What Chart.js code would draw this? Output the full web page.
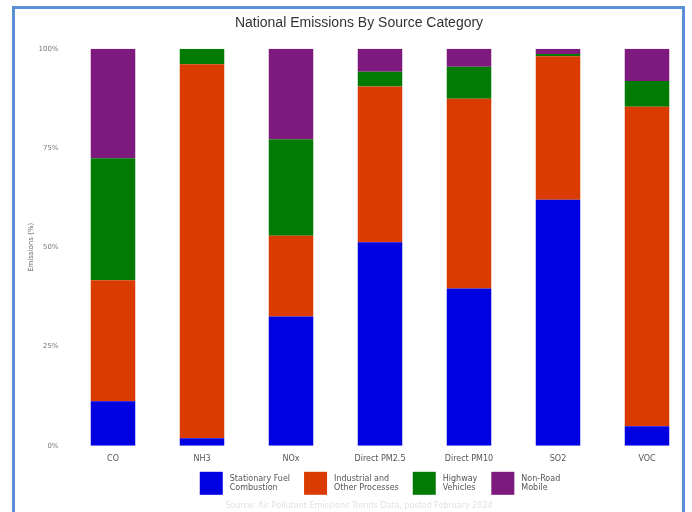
<!DOCTYPE html>
<html>
    <head>
        <title>National Emissions By Source Category</title>
        <script src="https://cdn.jsdelivr.net/npm/chart.js@4.4.1/dist/chart.umd.min.js"></script>
        <style>
            html, body {
                margin: 0;
                padding: 0;
                background: #fff;
                overflow: hidden;
            }
            .frame {
                position: absolute;
                left: 12px;
                top: 6px;
                width: 667px;
                height: 520px;
                border: 3px solid #5b8fd6;
                pointer-events: none;
            }
            .chart-container {
                position: absolute;
                left: 0;
                top: 0;
                width: 720px;
                height: 512px;
            }
        </style>
    </head>
    <body>
        <div class="chart-container">
            <canvas id="myChart"></canvas>
        </div>
        <div class="frame"></div>

        <script>
            // pollutants along the x axis
            var pollutants = ['CO', 'NH3', 'NOx', 'Direct PM2.5', 'Direct PM10', 'SO2', 'VOC'];

            // share of national emissions (%) per source category
            var stationaryFuel = [11.2, 1.9, 32.6, 51.3, 39.6, 62.0, 4.9];
            var industrial     = [30.5, 94.2, 20.3, 39.2, 47.8, 36.1, 80.5];
            var highway        = [30.7, 3.9, 24.3, 3.7, 8.1, 0.6, 6.5];
            var nonRoad        = [27.6, 0.0, 22.8, 5.8, 4.5, 1.3, 8.1];

            var yTicks = [0, 25, 50, 75, 100];

            var legendFont = '8px "DejaVu Sans"';

            // two-line legend under the x labels, centred on the plot area
            var wrappedLegend = {
                id: 'wrappedLegend',
                afterDraw: function(chart) {
                    var c = chart.ctx;
                    var area = chart.chartArea;
                    var box = 23, gap = 7, spacing = 14, lineH = 9.5;
                    var sets = chart.data.datasets;
                    c.save();
                    c.font = legendFont;
                    var widths = sets.map(function(ds) {
                        var w = Math.max.apply(null, ds.label.map(function(t) { return c.measureText(t).width; }));
                        return box + gap + w;
                    });
                    var total = widths.reduce(function(a, b) { return a + b; }, 0) + spacing * (sets.length - 1);
                    var x = (area.left + area.right) / 2 - total / 2;
                    var top = area.bottom + 26;
                    sets.forEach(function(ds, i) {
                        c.fillStyle = ds.backgroundColor;
                        c.fillRect(x, top, box, box);
                        c.fillStyle = '#555';
                        c.textBaseline = 'middle';
                        c.textAlign = 'left';
                        var y0 = top + box / 2 - (ds.label.length - 1) * lineH / 2;
                        ds.label.forEach(function(t, j) {
                            c.fillText(t, x + box + gap, y0 + j * lineH);
                        });
                        x += widths[i] + spacing;
                    });
                    c.restore();
                }
            };

            var ctx = document.getElementById('myChart').getContext('2d');
            var chart = new Chart(ctx, {
                type: 'bar',
                data: {
                    labels: pollutants,
                    datasets: [
                        { label: ['Stationary Fuel', 'Combustion'], data: stationaryFuel, backgroundColor: '#0000e0' },
                        { label: ['Industrial and', 'Other Processes'], data: industrial, backgroundColor: '#d93b01' },
                        { label: ['Highway', 'Vehicles'], data: highway, backgroundColor: '#037a03' },
                        { label: ['Non-Road', 'Mobile'], data: nonRoad, backgroundColor: '#7e1a7d' }
                    ]
                },
                plugins: [wrappedLegend],
                options: {
                    responsive: true,
                    maintainAspectRatio: false,
                    animation: false,
                    layout: {
                        padding: { left: 26.5, right: 28.5, top: 0, bottom: 0 }
                    },
                    datasets: {
                        bar: {
                            categoryPercentage: 1.0,
                            barPercentage: 0.5,
                            borderWidth: 0
                        }
                    },
                    plugins: {
                        title: {
                            display: true,
                            text: 'National Emissions By Source Category',
                            color: '#333',
                            font: { family: 'Liberation Sans', size: 14, weight: 'normal' },
                            padding: { top: 15, bottom: 17 }
                        },
                        subtitle: {
                            display: true,
                            position: 'bottom',
                            text: 'Source: Air Pollutant Emissions Trends Data, posted February 2024',
                            color: '#e2e2e2',
                            font: { family: 'DejaVu Sans', size: 8 },
                            padding: { top: 30, bottom: 1 }
                        },
                        legend: { display: false },
                        tooltip: { enabled: false }
                    },
                    scales: {
                        x: {
                            stacked: true,
                            grid: { display: false, drawTicks: false },
                            border: { display: false },
                            ticks: {
                                color: '#555',
                                font: { family: 'DejaVu Sans', size: 8 },
                                maxRotation: 0,
                                padding: 8
                            }
                        },
                        y: {
                            stacked: true,
                            min: 0,
                            max: 100,
                            afterBuildTicks: function(axis) {
                                axis.ticks = yTicks.map(function(v) { return { value: v }; });
                            },
                            afterFit: function(axis) {
                                axis.width = 42;
                            },
                            grid: { display: false, drawTicks: false },
                            border: { display: false },
                            title: {
                                display: true,
                                text: 'Emissions (%)',
                                color: '#666',
                                font: { family: 'DejaVu Sans', size: 7 },
                                padding: { top: 0, bottom: 0 }
                            },
                            ticks: {
                                color: '#777',
                                font: { family: 'DejaVu Sans', size: 7 },
                                padding: 10,
                                callback: function(v) { return v + '%'; }
                            }
                        }
                    }
                }
            });
        </script>
    </body>
</html>
